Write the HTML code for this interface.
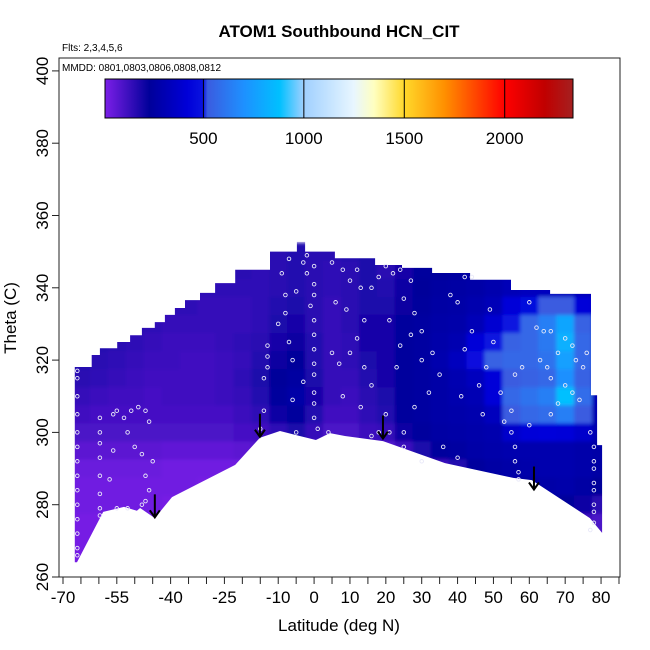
<!DOCTYPE html>
<html><head><meta charset="utf-8">
<style>
html,body{margin:0;padding:0;background:#fff;}
svg{display:block;font-family:"Liberation Sans",sans-serif;}
</style></head>
<body>
<svg id="chart" width="650" height="650" viewBox="0 0 650 650">
<defs>
<linearGradient id="cbgrad" x1="0" x2="1" y1="0" y2="0">
<stop offset="0" stop-color="#7b1fe8"/>
<stop offset="0.047" stop-color="#4010c0"/>
<stop offset="0.095" stop-color="#00009a"/>
<stop offset="0.176" stop-color="#0000d8"/>
<stop offset="0.210" stop-color="#0a14e0"/>
<stop offset="0.219" stop-color="#3a5ce0"/>
<stop offset="0.296" stop-color="#1e90ff"/>
<stop offset="0.373" stop-color="#00c0ff"/>
<stop offset="0.425" stop-color="#a0d0ff"/>
<stop offset="0.532" stop-color="#e8f6ff"/>
<stop offset="0.575" stop-color="#ffffc0"/>
<stop offset="0.640" stop-color="#ffd82a"/>
<stop offset="0.725" stop-color="#ff9000"/>
<stop offset="0.811" stop-color="#ff3000"/>
<stop offset="0.854" stop-color="#ff0000"/>
<stop offset="0.940" stop-color="#c00000"/>
<stop offset="1" stop-color="#a52020"/>
</linearGradient>
<clipPath id="regionClip"><polygon id="clipPoly" points=""/></clipPath>
<clipPath id="frameClip"><rect x="59" y="58" width="561" height="519"/></clipPath>
<filter id="soft" x="-5%" y="-5%" width="110%" height="110%"><feGaussianBlur stdDeviation="1.8"/></filter>
</defs>

<text x="339" y="37" text-anchor="middle" font-size="17" font-weight="bold">ATOM1 Southbound HCN_CIT</text>
<text x="62" y="51" font-size="10">Flts: 2,3,4,5,6</text>

<g clip-path="url(#frameClip)">
<g clip-path="url(#regionClip)"><g id="cells" filter="url(#soft)"></g></g>
<g id="points"></g>
<g id="arrows"></g>
</g>

<rect x="59" y="58" width="561" height="519" fill="none" stroke="#222" stroke-width="1"/>
<text x="62" y="71" font-size="10">MMDD: 0801,0803,0806,0808,0812</text>

<g>
<rect x="105" y="79" width="468" height="39" fill="url(#cbgrad)" stroke="#000" stroke-width="1"/>
<g id="cbticks"></g>
</g>

<g id="xaxis"></g>
<g id="yaxis"></g>
<text x="339" y="631" text-anchor="middle" font-size="17">Latitude (deg N)</text>
<text transform="translate(16,318) rotate(-90)" text-anchor="middle" font-size="17">Theta (C)</text>
</svg>

<script>
const latCenters = [-70,-65,-60,-55,-50,-45,-40,-35,-30,-25,-20,-15,-10,-5,0,5,10,15,20,25,30,35,40,45,50,55,60,65,70,75,80];
const thetaCenters = [350,345,340,335,330,325,320,315,310,305,300,295,290,285,280,275,270,265];
const hcnRows = [
[170,170,170,170,170,170,170,170,170,170,160,160,160,170,160,160,170,180,160,190,220,240,250,260,270,280,280,280,280,280,280],
[180,180,180,180,180,180,170,170,160,160,160,150,160,170,160,150,160,180,160,190,220,240,250,260,270,290,300,300,300,300,290],
[190,190,190,180,180,170,160,150,150,150,150,150,160,170,160,150,160,180,170,200,230,250,260,270,290,320,340,340,330,320,300],
[190,190,190,180,170,160,150,150,140,140,140,150,170,180,160,140,160,180,180,210,240,260,270,290,320,420,470,520,520,420,320],
[190,190,180,170,160,150,140,140,140,140,140,150,180,190,160,140,160,190,190,220,250,270,280,320,400,500,560,640,780,540,340],
[190,180,170,160,150,140,130,130,130,140,150,160,190,210,170,140,150,190,190,220,250,280,300,420,500,540,560,620,820,560,340],
[180,170,160,150,140,130,130,120,120,130,140,170,210,230,170,140,150,180,190,220,250,290,340,480,540,560,560,600,760,560,330],
[170,160,150,140,130,120,120,120,120,130,150,180,230,250,180,140,140,170,190,220,250,270,300,340,420,520,540,560,700,540,320],
[150,140,130,120,120,110,120,120,120,130,140,170,240,270,190,140,130,160,180,220,250,270,290,310,420,560,600,640,880,580,310],
[130,120,110,110,110,110,110,110,110,110,130,150,200,240,170,120,120,150,170,220,250,270,280,290,340,520,560,580,640,520,300],
[110,100,100,100,100,100,100,100,100,100,110,120,150,180,140,100,100,130,140,200,240,260,270,280,290,380,420,440,420,380,290],
[70,70,70,70,70,70,60,60,60,60,70,80,90,90,70,60,60,70,80,130,180,220,250,270,280,290,290,290,290,280,270],
[40,40,40,40,40,40,30,30,30,30,30,40,50,50,40,30,30,40,60,80,100,130,170,220,260,270,280,290,290,280,260],
[30,30,30,30,30,30,30,30,20,20,20,30,30,30,30,20,20,20,40,60,80,100,120,150,180,200,240,270,280,260,230],
[30,30,30,30,30,30,20,20,20,20,20,20,20,20,20,20,20,20,20,40,60,80,100,120,130,150,170,200,230,200,160],
[20,20,20,20,20,20,20,20,20,20,20,20,20,20,20,20,20,20,20,20,40,60,80,100,110,120,120,130,140,120,100],
[20,20,20,20,20,20,20,20,20,20,20,20,20,20,20,20,20,20,20,20,20,30,50,70,90,90,90,90,80,70,60],
[20,20,20,20,20,20,20,20,20,20,20,20,20,20,20,20,20,20,20,20,20,20,20,20,20,20,20,20,20,20,20]
];
const boundary = [[-66.7,318.1],[-62,318.1],[-62,321.4],[-59.7,321.4],[-59.7,323.3],[-54.9,323.3],[-54.9,325],[-51.3,325],[-51.3,326.9],[-48,326.9],[-48,328.9],[-44.4,328.9],[-44.4,330.5],[-41.6,330.5],[-41.6,332.5],[-38.8,332.5],[-38.8,334.4],[-36,334.4],[-36,336.6],[-31.8,336.6],[-31.8,338.6],[-27.6,338.6],[-27.6,341.3],[-22,341.3],[-22,345],[-12.3,345],[-12.3,350],[-4.8,350],[-4.8,352.7],[-2.5,352.7],[-2.5,350],[5.8,350],[5.8,348.2],[17,348.2],[17,346.3],[24.5,346.3],[24.5,345.5],[32.9,345.5],[32.9,344.1],[43.5,344.1],[43.5,342.2],[54.9,342.2],[54.9,339.4],[65.8,339.4],[65.8,338.3],[77.2,338.3],[77.2,310.3],[78.9,310.3],[78.9,296.5],[80.3,296.5],[80.3,272.2],[76.9,276.3],[60.7,286.8],[55.5,287.4],[36.5,291.5],[19.2,297.6],[8.6,299],[4.4,299.8],[0.5,297.9],[-4,299],[-9.5,300.4],[-15.1,298.5],[-22,291],[-39.6,282.1],[-44.4,276.3],[-48.5,279.1],[-49.4,278.3],[-53,279.4],[-58.8,278],[-66.1,264.1],[-66.7,264.1]];
const sampleLat = [-66,-66,-66,-66,-66,-66,-66,-66,-66,-66,-66,-66,-66,-66,-59.7,-59.7,-59.7,-59.7,-59.7,-59.7,-59.7,-59.7,-56,-55,-53,-51,-49,-47,-46,-52,-50,-48,-45,-47,-46,-47,-48,-52,-57,-55,-56,-13,-13,-13,-14,-14,-15,-3,-2,0,-2,0,0,-1,0,0,0,0,0,0,0,0,1,-5,-7,-9,-5,-8,-8,-10,-7,-6,-3,-6,5,8,10,12,13,6,9,14,16,18,20,22,12,10,7,14,16,5,8,13,20,21,18,16,4,24,27,25,28,21,30,27,24,33,30,23,35,32,28,25,36,40,30,25,42,44,38,40,49,44,42,48,50,46,52,41,47,55,53,55,56,56,57,57,60,62,64,66,70,72,68,73,76,75,66,70,72,74,68,66,77,78,78,78,78,78,78,78,78,77,60,58,56,65,63];
const sampleTheta = [317,315,310,305,300,296,292,288,284,280,276,272,268,266,304,300,297,293,288,283,279,277,305,306,304,306,307,306,303,300,296,294,292,288,284,281,280,279,287,279,295,324,321,318,315,306,301,347,349,346,344,341,338,335,331,327,323,319,316,311,308,304,301,300,348,344,339,338,333,330,325,320,314,309,347,345,342,345,340,336,334,331,340,343,346,344,326,322,319,318,313,322,310,307,305,300,300,299,300,345,342,337,333,331,328,327,324,322,320,318,316,311,307,300,296,293,292,296,343,343,338,336,334,328,323,318,325,313,311,310,305,306,303,300,296,292,289,287,336,329,328,328,326,324,322,320,322,318,315,313,311,309,308,305,300,296,292,290,286,284,280,278,275,273,302,318,316,318,320];
const arrowLat = [-44.4,-15.1,19.2,61.3];
const arrowTheta = [276.5,298.8,298.3,284.2];
const xTicks = [-70,-65,-60,-55,-50,-45,-40,-35,-30,-25,-20,-15,-10,-5,0,5,10,15,20,25,30,35,40,45,50,55,60,65,70,75,80,85];
const xLabels = [-70,-55,-40,-25,-10,0,10,20,30,40,50,60,70,80];
const yLabels = [260,280,300,320,340,360,380,400];
const cbLabels = [500,1000,1500,2000];

const NS = "http://www.w3.org/2000/svg";
const xs = lat => 63 + (lat + 70) * 3.587;
const ys = th => 577 - (th - 260) * 3.615;
const cbx = v => 105 + (v - 10) * 468 / 2330;

const stops = [[10,[123,31,232]],[120,[64,16,192]],[230,[0,0,154]],[420,[0,0,216]],[500,[10,20,224]],[520,[58,92,224]],[700,[30,144,255]],[880,[0,192,255]],[1000,[160,208,255]],[1250,[232,246,255]],[1350,[255,255,192]],[1500,[255,216,42]],[1700,[255,144,0]],[1900,[255,48,0]],[2000,[255,0,0]],[2200,[192,0,0]],[2340,[165,32,32]]];
function colorOf(v){
  if (v <= stops[0][0]) return "rgb(" + stops[0][1].join(",") + ")";
  for (let i = 1; i < stops.length; i++) {
    if (v <= stops[i][0]) {
      const a = stops[i-1], b = stops[i], t = (v - a[0]) / (b[0] - a[0]);
      const c = a[1].map((x, k) => Math.round(x + (b[1][k] - x) * t));
      return "rgb(" + c.join(",") + ")";
    }
  }
  return "rgb(" + stops[stops.length-1][1].join(",") + ")";
}
function mk(tag, attrs, parent){ const e = document.createElementNS(NS, tag); for (const k in attrs) e.setAttribute(k, attrs[k]); parent.appendChild(e); return e; }

document.getElementById("clipPoly").setAttribute("points", boundary.map(p => xs(p[0]).toFixed(1) + "," + ys(p[1]).toFixed(1)).join(" "));

const cells = document.getElementById("cells");
thetaCenters.forEach((th, r) => {
  latCenters.forEach((lat, c) => {
    const x0 = xs(lat - 2.5), x1 = xs(lat + 2.5), y0 = ys(th + 2.5), y1 = ys(th - 2.5);
    const el = mk("rect", {x: x0.toFixed(1), y: y0.toFixed(1), width: (x1 - x0 + 0.6).toFixed(1), height: (y1 - y0 + 0.6).toFixed(1), fill: colorOf(hcnRows[r][c])}, cells);
    
    
  });
});

const pts = document.getElementById("points");
sampleLat.forEach((lat, i) => {
  const el = mk("circle", {cx: xs(lat).toFixed(1), cy: ys(sampleTheta[i]).toFixed(1), r: 1.8, fill: "none", stroke: "#e8e8f8", "stroke-width": 0.9}, pts);
  
  
});

const arr = document.getElementById("arrows");
arrowLat.forEach((lat, i) => {
  const x = xs(lat), yb = ys(arrowTheta[i]);
  const g = mk("g", {}, arr);
  
  
  mk("line", {x1: x, y1: yb - 23, x2: x, y2: yb, stroke: "#000", "stroke-width": 2}, g);
  mk("polyline", {points: (x-5)+","+(yb-7)+" "+x+","+yb+" "+(x+5)+","+(yb-7), fill: "none", stroke: "#000", "stroke-width": 2}, g);
});

const cbt = document.getElementById("cbticks");
cbLabels.forEach(v => {
  const x = cbx(v);
  const ln = mk("line", {x1: x, y1: 79, x2: x, y2: 118, stroke: "#000", "stroke-width": 1}, cbt);
  
  
  const t = mk("text", {x: x, y: 144, "text-anchor": "middle", "font-size": 17}, cbt);
  t.textContent = v;
  
  
});

const xa = document.getElementById("xaxis");
xTicks.forEach(v => {
  const x = xs(v);
  const ln = mk("line", {x1: x, y1: 577, x2: x, y2: 584, stroke: "#222", "stroke-width": 1}, xa);
  
  
});
xLabels.forEach(v => {
  const t = mk("text", {x: xs(v), y: 603, "text-anchor": "middle", "font-size": 17}, xa);
  t.textContent = v;
  
  
});

const ya = document.getElementById("yaxis");
yLabels.forEach(v => {
  const y = ys(v);
  const ln = mk("line", {x1: 52, y1: y, x2: 59, y2: y, stroke: "#222", "stroke-width": 1}, ya);
  
  
  const t = mk("text", {transform: "translate(48," + y + ") rotate(-90)", "text-anchor": "middle", "font-size": 17}, ya);
  t.textContent = v;
  
  
});
</script>
</body></html>
